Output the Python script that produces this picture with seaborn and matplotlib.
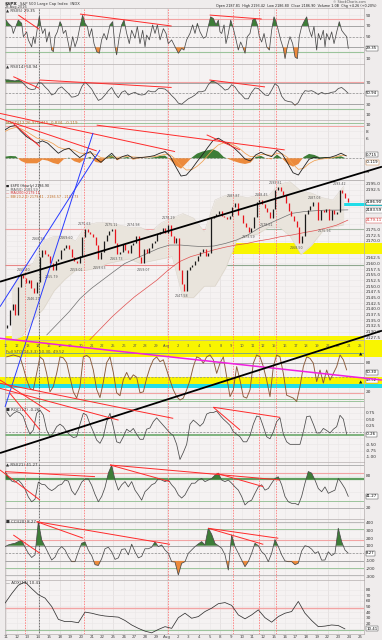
import numpy as np
import matplotlib
matplotlib.use("Agg")
import matplotlib.pyplot as plt
from matplotlib.lines import Line2D
import seaborn as sns

sns.set_theme(style="white")
plt.rcParams['font.family'] = ['DejaVu Sans']

# ---------------- data ----------------
date_labels = ["11", "12", "13", "14", "15", "18", "19", "20", "21", "22", "25", "26", "27", "28", "29",
               "Aug", "2", "3", "4", "5", "8", "9", "10", "11", "12", "15", "16", "17", "18", "19",
               "22", "23", "24", "25"]
monday_idx = [0, 5, 10, 15, 20, 25, 30]
event_days_red = [1.77, 7.28, 15.1, 21.2, 23.6, 25.2]
event_days_black = [3.08]

price_first_open = 2131.7
bars_per_day = 4
price_closes = [
    2133.0, 2139.5, 2142.0, 2137.5, 2149.5, 2155.0, 2153.5, 2151.5,
    2152.5, 2149.0, 2147.0, 2152.0, 2163.0, 2166.0, 2164.0, 2163.5,
    2160.0, 2157.0, 2161.0, 2162.0, 2166.0, 2167.0, 2168.0, 2166.5,
    2163.0, 2161.0, 2160.0, 2163.5, 2171.5, 2175.0, 2174.0, 2173.0,
    2171.5, 2168.0, 2162.0, 2165.0, 2170.0, 2172.5, 2174.5, 2175.0,
    2169.0, 2164.0, 2165.0, 2168.5, 2166.0, 2164.5, 2168.0, 2169.0,
    2172.0, 2163.0, 2160.0, 2166.5, 2164.5, 2167.0, 2169.0, 2170.0,
    2173.0, 2174.0, 2175.5, 2173.5, 2177.0, 2172.0, 2169.0, 2171.0,
    2157.0, 2151.0, 2148.0, 2157.0, 2158.5, 2159.5, 2161.0, 2163.5,
    2165.0, 2166.5, 2163.5, 2164.5, 2180.0, 2181.0, 2182.0, 2183.0,
    2181.0, 2180.5, 2179.5, 2181.0, 2185.0, 2186.5, 2181.5, 2181.5,
    2178.0, 2176.0, 2174.0, 2175.5, 2180.5, 2187.0, 2188.0, 2186.0,
    2184.5, 2182.5, 2180.0, 2184.0, 2192.5, 2193.5, 2192.0, 2190.0,
    2186.5, 2183.0, 2181.0, 2178.5, 2176.0, 2169.0, 2172.0, 2182.0,
    2183.5, 2185.5, 2187.0, 2187.0, 2179.0, 2183.5, 2182.5, 2184.0,
    2179.0, 2183.5, 2182.0, 2182.5, 2192.5, 2191.0, 2189.0, 2187.0]
bb_upper = [2148, 2158, 2160, 2170, 2172, 2172, 2170, 2177, 2178, 2178, 2177, 2176, 2176, 2174, 2178, 2180,
            2182, 2180, 2174, 2188, 2190, 2190, 2189, 2190, 2190, 2195, 2196, 2192, 2191, 2189, 2188, 2194]
bb_lower = [2126, 2128, 2135, 2140, 2148, 2153, 2157, 2157, 2158, 2160, 2161, 2162, 2160, 2161, 2162, 2163,
            2145, 2145, 2150, 2150, 2158, 2170, 2172, 2173, 2176, 2176, 2172, 2164, 2168, 2174, 2176, 2177]
ma50_span = (3.8, 31.9)
ma50 = [2128.5, 2133.6, 2138.7, 2144.6, 2149.0, 2152.7, 2156.4, 2160.0, 2162.2, 2164.4, 2166.6, 2168.1,
        2168.1, 2167.7, 2167.4, 2167.7, 2168.8, 2170.3, 2172.5, 2175.5, 2177.7, 2179.9, 2182.1, 2182.8,
        2183.2, 2183.5, 2183.5, 2183.6]
ma200_span = (7.8, 31.9)
ma200 = [2126.3, 2131.4, 2136.5, 2141.0, 2145.3, 2149.0, 2152.7, 2157.1, 2160.8, 2163.0, 2164.4, 2165.9,
         2167.1, 2168.1, 2168.8, 2169.9, 2170.7, 2171.8, 2172.5, 2173.5, 2174.4, 2175.5, 2176.9, 2179.1]
price_label_days = [1.6, 2.55, 3.0, 4.25, 5.65, 6.6, 7.35, 8.75, 9.85, 10.3, 11.9, 12.8, 15.15, 16.4,
                    21.2, 22.6, 23.85, 24.3, 25.1, 27.1, 28.8, 29.75, 31.15]
price_label_vals = [2155.40, 2146.21, 2168.99, 2155.79, 2169.60, 2159.01, 2175.63, 2159.63, 2175.11,
                    2163.73, 2174.98, 2159.07, 2178.29, 2147.58, 2187.87, 2173.59, 2188.45, 2178.61,
                    2193.81, 2168.50, 2187.03, 2175.96, 2193.42]
price_label_high = [1, 0, 1, 0, 1, 0, 1, 0, 1, 0, 1, 0, 1, 0, 1, 0, 1, 0, 1, 0, 1, 0, 1]

rsi5_t = [0.0, 0.22, 0.53, 0.68, 0.84, 1.15, 1.46, 1.62, 1.93, 2.08,
          2.39, 2.55, 2.71, 2.92, 3.11, 3.23, 3.42, 3.64, 3.79, 4.04,
          4.26, 4.42, 4.57, 4.79, 5.04, 5.19, 5.35, 5.57, 5.75, 5.97,
          6.22, 6.44, 6.65, 6.90, 7.15, 7.37, 7.59, 7.77, 7.99, 8.21,
          8.46, 8.71, 8.92, 9.14, 9.39, 9.70, 9.95, 10.17, 10.32, 10.57,
          10.79, 11.01, 11.26, 11.50, 11.72, 12.03, 12.25, 12.50, 12.75, 12.97,
          13.12, 13.37, 13.68, 13.90, 14.12, 14.37, 14.68, 14.93, 15.14, 15.45,
          15.77, 16.08, 16.39, 16.60, 16.85, 17.16, 17.41, 17.63, 17.85, 18.10,
          18.41, 18.66, 18.87, 19.09, 19.34, 19.59, 19.81, 19.96, 20.12, 20.34,
          20.52, 20.74, 20.96, 21.21, 21.46, 21.67, 21.89, 22.08, 22.30, 22.51,
          22.76, 23.01, 23.23, 23.45, 23.63, 23.85, 24.07, 24.32, 24.57, 24.78,
          25.00, 25.19, 25.40, 25.62, 25.87, 26.03, 26.24, 26.49, 26.74, 26.96,
          27.18, 27.36, 27.58, 27.80, 28.05, 28.30, 28.51, 28.73, 28.98, 29.14,
          29.35, 29.60, 29.76, 29.91, 30.16, 30.38, 30.60, 30.85, 31.09, 31.31,
          31.53, 31.78, 31.93]
rsi5 = [81, 75, 69, 56, 65, 81, 75, 50, 59, 44,
        31, 50, 37, 65, 88, 72, 56, 65, 40, 59,
        25, 22, 50, 59, 78, 72, 56, 62, 44, 22,
        50, 31, 44, 69, 90, 75, 69, 50, 65, 37,
        22, 19, 44, 56, 44, 72, 78, 31, 16, 50,
        72, 81, 56, 37, 62, 47, 69, 37, 62, 31,
        53, 44, 72, 56, 72, 44, 65, 56, 37, 44,
        31, 19, 28, 25, 44, 56, 72, 56, 75, 59,
        47, 50, 69, 87, 84, 72, 81, 59, 56, 72,
        37, 56, 81, 65, 44, 25, 40, 31, 19, 50,
        56, 81, 84, 72, 50, 40, 56, 31, 25, 62,
        87, 78, 62, 44, 28, 9, 31, 50, 37, 12,
        9, 50, 69, 78, 87, 62, 50, 69, 25, 56,
        44, 62, 31, 56, 44, 59, 37, 59, 78, 62,
        56, 50, 28]

rsi14_span = (-0.09, 31.93)
rsi14 = [75, 75, 74, 73, 75, 72, 65, 59, 57, 58,
         70, 69, 62, 56, 47, 50, 59, 62, 56, 50,
         43, 44, 47, 62, 71, 65, 58, 47, 37, 40,
         47, 55, 61, 50, 42, 52, 55, 47, 50, 52,
         48, 47, 48, 55, 53, 53, 59, 59, 58, 53,
         46, 40, 32, 30, 35, 40, 43, 47, 53, 53,
         55, 66, 73, 71, 67, 62, 56, 58, 66, 62,
         53, 47, 40, 40, 52, 60, 59, 53, 47, 46,
         56, 68, 63, 45, 37, 35, 34, 28, 33, 46,
         55, 54, 55, 52, 48, 52, 49, 50, 52, 53,
         59, 61, 56, 50]

macd_span = (-0.09, 31.75)
macd = [8.5, 9.5, 9.8, 8, 6.5, 5.5, 4.5, 5.2, 4.5, 3,
        1.5, 2.5, 3, 1.5, 0.2, 1.3, 2, 0, -1.2, 0.2,
        1.5, -0.3, 0.5, 1, 0, 0.2, 0.3, 0.5, 0.8, 1.5,
        2, 0.5, -2.5, -5.3, -5, -3.2, -1, 1, 3.2, 5.3,
        6, 5, 4.2, 3, 1.5, -0.2, -0.8, 1, 1.8, 1,
        0.5, 2.5, 1.2, -1.5, -4.3, -5, -2.6, -0.3, 0.3, 0,
        0.2, 0.3, 0.8, 1.5, 0.7]
macd_signal = [8, 8.8, 9.2, 8.8, 8, 7, 6, 5.6, 5.2, 4.4,
               3.3, 2.8, 2.8, 2.4, 1.6, 1.4, 1.6, 1.1, 0.2, 0,
               0.5, 0.3, 0.4, 0.6, 0.4, 0.3, 0.3, 0.4, 0.5, 0.8,
               1.2, 1.0, -0.3, -2.2, -3.5, -3.4, -2.4, -1.0, 0.8, 2.6,
               4.0, 4.6, 4.5, 3.9, 2.9, 1.5, 0.5, 0.6, 1.1, 1.1,
               0.8, 1.4, 1.3, 0.2, -1.8, -3.3, -3.0, -1.6, -0.7, -0.3,
               -0.1, 0.1, 0.4, 0.9, 0.8]

stoch_span = (0.06, 31.78)
stoch_k = [92, 94, 96, 94, 92, 70, 45, 27, 24, 58,
           92, 86, 58, 20, 31, 58, 92, 90, 80, 50,
           20, 7, 31, 92, 95, 90, 65, 25, 8, 40,
           80, 92, 60, 18, 12, 45, 60, 45, 55, 50,
           18, 20, 48, 70, 86, 92, 82, 86, 65, 44,
           24, 10, 3, 7, 24, 44, 72, 92, 89, 79,
           92, 96, 86, 58, 79, 92, 51, 10, 24, 72,
           44, 10, 7, 24, 79, 96, 92, 72, 44, 10,
           72, 96, 92, 58, 13, 10, 7, 0, 31, 72,
           92, 89, 79, 41, 65, 38, 65, 44, 58, 72,
           96, 86, 65]

roc_span = (0.06, 31.78)
roc = [0.79, 0.6, 0.73, 0.8, 0.75, 0.6, 0.2, -0.1, 0.07, 0.73,
       0.86, 0.66, 0.07, -0.2, -0.05, 0.2, 0.3, 0.2, 0.0, -0.13,
       -0.23, -0.2, 0.3, 0.73, 0.66, 0.3, 0.0, -0.33, -0.46, -0.2,
       0.4, 0.73, 0.2, -0.4, -0.45, -0.2, 0.1, 0.0, 0.13, -0.1,
       -0.3, -0.3, 0.1, 0.15, 0.4, 0.55, 0.4, 0.25, 0.1, -0.05,
       -0.15, -0.5, -1.1, -0.82, -0.5, 0.3, 0.46, 0.35, 0.22, 0.35,
       0.7, 0.76, 0.76, 0.82, 0.65, 0.5, 0.38, 0.25, 0.0, -0.1,
       -0.2, -0.4, -0.4, -0.15, 0.3, 0.62, 0.58, 0.2, -0.2, -0.28,
       0.0, 0.4, 0.55, -0.1, -0.4, -0.5, -0.5, -0.5, -0.5, 0.0,
       0.6, 0.62, 0.3, -0.05, -0.05, 0.13, 0.05, -0.05, 0.1, 0.2,
       0.65, 0.5, -0.1]

rsi_slow_span = (-0.09, 31.93)
rsi_slow = [88, 78, 70, 68, 72, 65, 55, 40, 31, 36,
            68, 64, 63, 56, 52, 56, 62, 64, 72, 70,
            52, 44, 55, 68, 74, 74, 62, 45, 31, 41,
            58, 85, 100, 72, 53, 63, 69, 59, 69, 53,
            44, 34, 50, 56, 63, 66, 75, 72, 69, 72,
            63, 56, 44, 38, 44, 56, 66, 66, 72, 75,
            69, 72, 75, 81, 85, 72, 69, 72, 66, 59,
            53, 41, 25, 31, 34, 47, 59, 63, 53, 56,
            66, 75, 78, 63, 41, 31, 28, 28, 25, 41,
            66, 88, 85, 72, 56, 50, 59, 47, 50, 53,
            75, 66, 56, 41]

cci_span = (-0.09, 31.93)
cci = [88, 110, 123, 132, 154, 170, 80, 0, -55, -20,
       417, 176, 88, 0, -88, -50, 44, 88, 44, -44,
       -110, -110, 22, 132, 150, 40, -30, -150, -160, -70,
       60, 80, 20, -80, -60, 50, 60, -20, 120, 20,
       -60, -40, 60, 60, 80, 150, 88, 110, 44, 0,
       -110, -115, -285, -132, -110, 0, 44, 88, 123, 154,
       110, 330, 250, 130, 100, 66, -20, -220, 241, 88,
       0, -88, -176, -110, 0, 132, 100, 20, -20, -110,
       0, 180, 90, -20, -100, -110, -110, -150, -130, 30,
       100, 88, 55, 0, 22, -90, -88, 20, -30, 0,
       330, 154, 44, 0]

adx_span = (-0.09, 31.62)
adx = [56, 73, 88, 94, 82, 71, 65, 50, 27, 23,
       23, 21, 40, 38, 35, 33, 32, 31, 25, 17,
       11, 6, 3, 9, 14, 11, 30, 38, 29, 32,
       41, 47, 55, 57, 52, 35, 28, 35, 44, 30,
       22, 32, 38, 41, 59, 38, 25, 14, 15, 17,
       16, 10]

# hand-drawn annotation lines (start day, start value, end day, end value)
rsi5_trends = [(1.15, 90.4, 3.11, 63.7), (6.9, 92.3, 15.45, 69.9), (19.0, 90.4, 23.85, 83.0)]
rsi14_trends = [(0.68, 81.0, 3.11, 59.4), (3.11, 74.8, 15.45, 61.0), (18.97, 74.8, 24.16, 62.0)]
macd_trends = [(-0.56, 13.4, 15.77, 2.0), (-0.56, 11.9, 8.46, 2.2), (0.68, 10.4, 3.17, 3.5),
               (8.46, 9.9, 26.0, 2.5), (18.72, 7.0, 21.83, 2.5)]
price_black = (-0.56, 2151.96, 35.07, 2202.62)
price_blue = [(-0.56, 2140.95, 8.77, 2209.98), (-0.09, 2096.76, 8.12, 2217.5)]
stoch_black = (-0.56, -106.2, 35.07, 146.0)
stoch_magenta = (-0.56, 130.3, 35.07, 44.3)
roc_trends = [(-0.56, 2.05, 4.1, 0.79), (-0.56, 1.92, 15.6, 0.53), (-0.56, 1.72, 10.5, 0.46),
              (0.37, 1.52, 3.17, 0.07), (19.34, 0.97, 25.56, 0.57), (19.34, 0.97, 21.83, 0.07)]
slow_trends = [(-0.56, 91.0, 3.17, 34.3), (-0.09, 87.8, 8.3, 78.4), (9.7, 100.4, 25.56, 72.1),
               (9.7, 100.4, 15.3, 68.9), (19.65, 84.7, 24.0, 59.5)]
cci_trends = [(0.68, 241, 3.17, 0), (2.86, 416, 15.3, 118), (2.86, 416, 7.21, 198),
              (18.87, 329, 24.0, 118), (18.87, 329, 25.4, 198)]

# ---------------- layout / style ----------------
W, H = 382, 640
PX_LEFT, PX_RIGHT = 5, 364
DAY0_PX, DAY_PX = 6, 10.72
DMIN = (PX_LEFT - DAY0_PX) / DAY_PX
DMAX = (PX_RIGHT - DAY0_PX) / DAY_PX
XMAX_FIG = (W - PX_LEFT) / (PX_RIGHT - PX_LEFT)
XMIN_FIG = (0 - PX_LEFT) / (PX_RIGHT - PX_LEFT)

BG_FIG = '#efecec'
BG_AX = '#f5f2f2'
GRID = '#eae6e6'
MONGRID = '#d8d2d2'
GREEN_FILL = '#3d7d37'
ORANGE_FILL = '#ec8a3c'
LINE = '#4a4a4a'
TREND = '#ff2a2a'
PINK = '#f2a4a4'
GLINE = '#9cc49c'
YELLOW = '#f9f500'
CYAN = '#22dde8'


def frac(d):
    return (d - DMIN) / (DMAX - DMIN)


fig = plt.figure(figsize=(W / 100, H / 100), dpi=100)
fig.patch.set_facecolor(BG_FIG)


def make_panel(top, bottom, ylim, yticks, fmt="{:g}"):
    ax = fig.add_axes([PX_LEFT / W, 1 - bottom / H, (PX_RIGHT - PX_LEFT) / W, (bottom - top) / H])
    ax.set_facecolor(BG_AX)
    ax.set_xlim(DMIN, DMAX)
    ax.set_ylim(*ylim)
    ax.set_xticks(np.arange(len(date_labels)))
    ax.set_xticklabels([])
    ax.tick_params(axis='x', length=0)
    ax.set_yticks(yticks)
    ax.set_yticklabels([fmt.format(v) for v in yticks])
    ax.yaxis.tick_right()
    ax.tick_params(axis='y', length=0, pad=1.2, labelsize=3.1, labelcolor='#333333')
    ax.grid(True, color=GRID, lw=0.4, zorder=0)
    for m in monday_idx:
        ax.axvline(m, color=MONGRID, lw=0.45, zorder=0.5)
    for d in event_days_red:
        ax.axvline(d, color='#ff7070', lw=0.55, ls=(0, (2, 1.5)), zorder=1.5)
    for d in event_days_black:
        ax.axvline(d, color='#222222', lw=0.55, ls=(0, (1, 1)), zorder=1.5)
    for s in ax.spines.values():
        s.set_color('#b5afaf')
        s.set_linewidth(0.5)
    return ax


def hl(ax, v, color, lw=0.6, ls='-', x0=None, x1=None):
    a = 0 if x0 is None else frac(x0)
    b = 1 if x1 is None else frac(x1)
    ax.axhline(v, xmin=a, xmax=b, color=color, lw=lw, ls=ls, zorder=1.2)


def osc(ax, t, v, hi=None, lo=None, color=LINE, lw=0.55):
    t = np.asarray(t, float)
    v = np.asarray(v, float)
    if hi is not None:
        ax.fill_between(t, v, hi, where=v >= hi, interpolate=True, color=GREEN_FILL, lw=0, zorder=2)
    if lo is not None:
        ax.fill_between(t, v, lo, where=v <= lo, interpolate=True, color=ORANGE_FILL, lw=0, zorder=2)
    sns.lineplot(x=t, y=v, ax=ax, color=color, linewidth=lw, sort=False, estimator=None,
                 legend=False, zorder=3)
    ax.set_xlabel('')
    ax.set_ylabel('')


def trend(ax, seg, color=TREND, lw=0.7):
    d0, v0, d1, v1 = seg
    fig.add_artist(Line2D([d0, d1], [v0, v1], transform=ax.transData, color=color, lw=lw,
                          zorder=5, solid_capstyle='butt'))


def title(ax, text, color='#333333', y=0.985):
    ax.text(0.004, y, text, transform=ax.transAxes, va='top', ha='left', fontsize=2.9,
            color=color, zorder=6)


def box(ax, val, text, ec='#333333', tc='#000000'):
    # the boxed current value replaces the tick label it sits on
    y0, y1 = ax.get_ylim()
    ppu = ax.get_position().height * H / (y1 - y0)
    for tv, lab in zip(ax.get_yticks(), ax.get_yticklabels()):
        if abs(tv - val) * ppu < 5.5:
            lab.set_visible(False)
    ax.text(1.006, val, text, transform=ax.get_yaxis_transform(), fontsize=2.8, va='center',
            ha='left', color=tc, clip_on=False, zorder=7,
            bbox=dict(boxstyle='square,pad=0.12', fc='white', ec=ec, lw=0.3))


def span_t(span, n):
    return np.linspace(span[0], span[1], n)


# ---------------- header ----------------
fig.text(5 / W, 1 - 3.6 / H, "$SPX", fontsize=3.2, weight='bold', va='center', color='#222')
fig.text(20 / W, 1 - 3.6 / H, "S&P 500 Large Cap Index  INDX", fontsize=2.7, va='center', color='#333')
fig.text(5 / W, 1 - 7.2 / H, "23-Aug-2016", fontsize=2.5, va='center', color='#444')
fig.text(216 / W, 1 - 6 / H,
         "Open 2187.81  High 2193.42  Low 2186.80  Close 2186.90  Volume 1.0B  Chg +4.26 (+0.20%)",
         fontsize=2.45, va='center', color='#222')
fig.text(366 / W, 1 - 2.2 / H, "© StockCharts.com", fontsize=2.4, va='center', ha='right', color='#555')

# ---------------- panel 1: RSI(5) ----------------
ax1 = make_panel(8, 64, (-1.1, 103.6), [10, 30, 50, 70, 90])
hl(ax1, 70, '#9a9a9a')
hl(ax1, 30, '#9a9a9a')
hl(ax1, 50, '#8a8a8a', lw=0.5, ls=(0, (3, 2)))
hl(ax1, 83, PINK, lw=0.8)
hl(ax1, 22, GLINE, lw=0.8)
osc(ax1, rsi5_t, rsi5, hi=70, lo=30)
for s in rsi5_trends:
    trend(ax1, s)
title(ax1, "▲ RSI(5) 29.35")
box(ax1, rsi5[-1], "29.35")

# ---------------- panel 2: RSI(14) ----------------
ax2 = make_panel(64, 120, (0.74, 104.4), [10, 30, 50, 70])
hl(ax2, 71.5, PINK, lw=0.8)
hl(ax2, 70, '#9a9a9a')
hl(ax2, 30, '#9a9a9a')
hl(ax2, 50, '#8a8a8a', lw=0.5, ls=(0, (3, 2)))
hl(ax2, 22, GLINE, lw=0.8)
osc(ax2, span_t(rsi14_span, len(rsi14)), rsi14, hi=70, lo=30)
for s in rsi14_trends:
    trend(ax2, s)
title(ax2, "▲ RSI(14) 50.94")
box(ax2, rsi14[-1], "50.94")

# ---------------- panel 3: MACD ----------------
ax3 = make_panel(120, 180, (-6.48, 11.43), [-4, -2, 0, 2, 4, 6, 8, 10])
hl(ax3, 10.4, GLINE, lw=0.7)
hl(ax3, 9.6, PINK, lw=0.7)
hl(ax3, 0, '#8a8a8a', lw=0.5, ls=(0, (3, 2)))
tm = span_t(macd_span, len(macd))
hist = np.asarray(macd) - np.asarray(macd_signal)
ax3.fill_between(tm, hist, 0, where=hist >= 0, interpolate=True, color=GREEN_FILL, lw=0, zorder=2)
ax3.fill_between(tm, hist, 0, where=hist <= 0, interpolate=True, color=ORANGE_FILL, lw=0, zorder=2)
sns.lineplot(x=tm, y=macd_signal, ax=ax3, color='#f0a050', linewidth=0.55, sort=False,
             estimator=None, legend=False, zorder=3)
sns.lineplot(x=tm, y=macd, ax=ax3, color='#222222', linewidth=0.6, sort=False,
             estimator=None, legend=False, zorder=3.1)
ax3.set_xlabel('')
ax3.set_ylabel('')
for s in macd_trends:
    trend(ax3, s)
title(ax3, "MACD(12,26,9) 0.715, 0.834, -0.119", color='#c07028')
box(ax3, macd[-1] + 0.4, "0.715")
box(ax3, macd[-1] - 1.9, "-0.119", ec='#c07028')

# ---------------- panel 4: price ----------------
p_ticks = list(np.arange(2127.5, 2195.01, 2.5))
ax4 = make_panel(180, 340, (2126.28, 2196.76), p_ticks, fmt="{:.1f}")
ax4.axhspan(2126.28, 2128.0, color=YELLOW, lw=0, zorder=1)
ax4.axhspan(2164.1, 2168.8, xmin=frac(18.9), xmax=XMAX_FIG, color=YELLOW, lw=0, zorder=1, clip_on=False)
ax4.axhspan(2185.3, 2186.8, xmin=frac(29.0), xmax=XMAX_FIG, color=CYAN, lw=0, zorder=1, clip_on=False)
hl(ax4, 2175.2, PINK, lw=0.8, x1=18.9)
hl(ax4, 2175.2, '#a4b8a4', lw=0.8, x0=18.9)
hl(ax4, 2159.2, '#e88888', lw=0.8, x1=18.9)
hl(ax4, 2159.2, '#8fa88f', lw=0.8, x0=18.9)
hl(ax4, 2196.6, '#c8c8c8', lw=0.6, x0=28.5)
tb = np.arange(len(bb_upper)) + 0.5
ax4.fill_between(tb, bb_lower, bb_upper, color='#e9e4dc', lw=0, zorder=1.3)
ax4.plot(tb, bb_upper, color='#d6cec3', lw=0.3, zorder=1.4)
ax4.plot(tb, bb_lower, color='#d6cec3', lw=0.3, zorder=1.4)
sns.lineplot(x=span_t(ma50_span, len(ma50)), y=ma50, ax=ax4, color='#707070', linewidth=0.5,
             sort=False, estimator=None, legend=False, zorder=2)
sns.lineplot(x=span_t(ma200_span, len(ma200)), y=ma200, ax=ax4, color='#e05050', linewidth=0.5,
             sort=False, estimator=None, legend=False, zorder=2)
ax4.set_xlabel('')
ax4.set_ylabel('')
closes = np.asarray(price_closes, float)
opens = np.r_[price_first_open, closes[:-1]]
tp = np.arange(len(closes)) / bars_per_day + 0.5 / bars_per_day
up = closes >= opens
ax4.vlines(tp[up], opens[up], closes[up], colors='#1a1a1a', lw=0.9, zorder=3)
ax4.vlines(tp[~up], closes[~up], opens[~up], colors='#e8141c', lw=0.9, zorder=3)
for d, v, hi in zip(price_label_days, price_label_vals, price_label_high):
    ax4.text(d, v + (0.9 if hi else -0.9), f"{v:.2f}", fontsize=2.3, color='#555555',
             ha='center', va='bottom' if hi else 'top', zorder=4)
ax4.text(0.004, 0.975, "■ $SPX (Hourly) 2186.90", transform=ax4.transAxes, fontsize=2.4,
         color='#222', va='top', zorder=6)
ax4.text(0.004, 0.953, "— MA(50) 2183.59", transform=ax4.transAxes, fontsize=2.4,
         color='#555', va='top', zorder=6)
ax4.text(0.004, 0.931, "— MA(200) 2179.11", transform=ax4.transAxes, fontsize=2.4,
         color='#d03030', va='top', zorder=6)
ax4.text(0.004, 0.909, "— BB(20,2.0) 2179.41 - 2186.57 - 2193.73", transform=ax4.transAxes,
         fontsize=2.4, color='#c07028', va='top', zorder=6)
box(ax4, 2186.9, "2186.90")
box(ax4, 2183.4, "2183.59", ec='#777')
box(ax4, 2179.1, "2179.11", ec='#d03030', tc='#d03030')
for s in price_blue:
    trend(ax4, s, color='#2a3cff', lw=0.7)
trend(ax4, price_black, color='#000000', lw=1.3)

# ---------------- panel 5: stochastic ----------------
ax5 = make_panel(340, 407, (-11.3, 126.8), [20, 80])
ax5.axhspan(91.8, 126.8, xmin=XMIN_FIG, xmax=XMAX_FIG, color=YELLOW, lw=0, zorder=1, clip_on=False)
ax5.axhspan(35.5, 51.1, xmin=XMIN_FIG, xmax=XMAX_FIG, color=YELLOW, lw=0, zorder=1, clip_on=False)
ax5.axhspan(27.2, 35.5, xmin=XMIN_FIG, xmax=XMAX_FIG, color=CYAN, lw=0, zorder=1, clip_on=False)
hl(ax5, 100, '#7faa7f', lw=0.7)
hl(ax5, 80, '#9a9a9a')
hl(ax5, 50, '#8a8a8a', lw=0.5, ls=(0, (3, 2)))
hl(ax5, 17, PINK, lw=0.8)
hl(ax5, 6, GLINE, lw=0.7)
hl(ax5, 1.6, GLINE, lw=0.7)
osc(ax5, span_t(stoch_span, len(stoch_k)), stoch_k, color='#8a5a3a', lw=0.65)
for i, lab in enumerate(date_labels):
    ax5.text(i, 0.91, lab, transform=ax5.get_xaxis_transform(), fontsize=2.6, color='#555',
             ha='center', va='center', zorder=6)
title(ax5, "Full STO(14,3,3) 50.30, 49.52", color='#6a4a2a', y=0.845)
for v in (97, 40):
    ax5.text(DMAX - 0.35, v, "▲", fontsize=3.2, color='#111', ha='center', va='center', zorder=6)
box(ax5, 60, "50.30")
box(ax5, 44, "49.52", ec='#c07028')
trend(ax5, stoch_magenta, color='#f020e0', lw=1.1)
trend(ax5, stoch_black, color='#000000', lw=1.3)

# ---------------- panel 6: ROC ----------------
ax6 = make_panel(407, 462, (-1.2, 0.98), [-1.0, -0.75, -0.5, -0.25, 0.0, 0.25, 0.5, 0.75], fmt="{:.2f}")
hl(ax6, 0, '#8a8a8a', lw=0.5, ls=(0, (3, 2)))
hl(ax6, -0.13, '#6aa86a', lw=1.2)
osc(ax6, span_t(roc_span, len(roc)), roc)
for s in roc_trends:
    trend(ax6, s)
title(ax6, "■ ROC(12) -0.26")
box(ax6, roc[-1], "-0.26")

# ---------------- panel 7: slow RSI ----------------
ax7 = make_panel(462, 519, (-1.5, 106), [20, 50, 80])
hl(ax7, 100, '#a8a8a8')
hl(ax7, 85.7, PINK, lw=0.8)
hl(ax7, 73.2, '#5f9f5f', lw=1.6)
hl(ax7, 32.5, GLINE, lw=0.7)
hl(ax7, 18.7, '#a8a8a8')
osc(ax7, span_t(rsi_slow_span, len(rsi_slow)), rsi_slow, hi=73.2)
for s in slow_trends:
    trend(ax7, s)
title(ax7, "▲ RSI(21) 41.27")
box(ax7, rsi_slow[-1], "41.27")

# ---------------- panel 8: CCI ----------------
ax8 = make_panel(519, 580, (-351, 451), [-300, -200, -100, 0, 100, 200, 300, 400])
hl(ax8, 416, '#b0b0b0')
hl(ax8, 316, GLINE, lw=0.7)
hl(ax8, 175, PINK, lw=0.8)
hl(ax8, 100, '#9a9a9a')
hl(ax8, 0, '#8a8a8a', lw=0.5, ls=(0, (3, 2)))
hl(ax8, -100, '#9a9a9a')
hl(ax8, -190, GLINE, lw=0.7)
hl(ax8, -285, '#b0b0b0')
osc(ax8, span_t(cci_span, len(cci)), cci, hi=100, lo=-100)
for s in cci_trends:
    trend(ax8, s)
title(ax8, "■ CCI(20) 8.27")
box(ax8, cci[-1], "8.27")

# ---------------- panel 9: ADX ----------------
ax9 = make_panel(580, 634, (0.9, 97.3), [10, 20, 30, 40, 50, 60, 70, 80])
hl(ax9, 46.8, PINK, lw=1.0)
hl(ax9, 8, GLINE, lw=0.8)
osc(ax9, span_t(adx_span, len(adx)), adx, color='#333333')
title(ax9, "— ADX(14) 10.41")
ax9.set_xticklabels(date_labels)
ax9.tick_params(axis='x', labelsize=2.9, pad=0.8, labelcolor='#444')
box(ax9, adx[-1], "10.41")

fig.savefig("out.png", dpi=100, facecolor=fig.get_facecolor())
